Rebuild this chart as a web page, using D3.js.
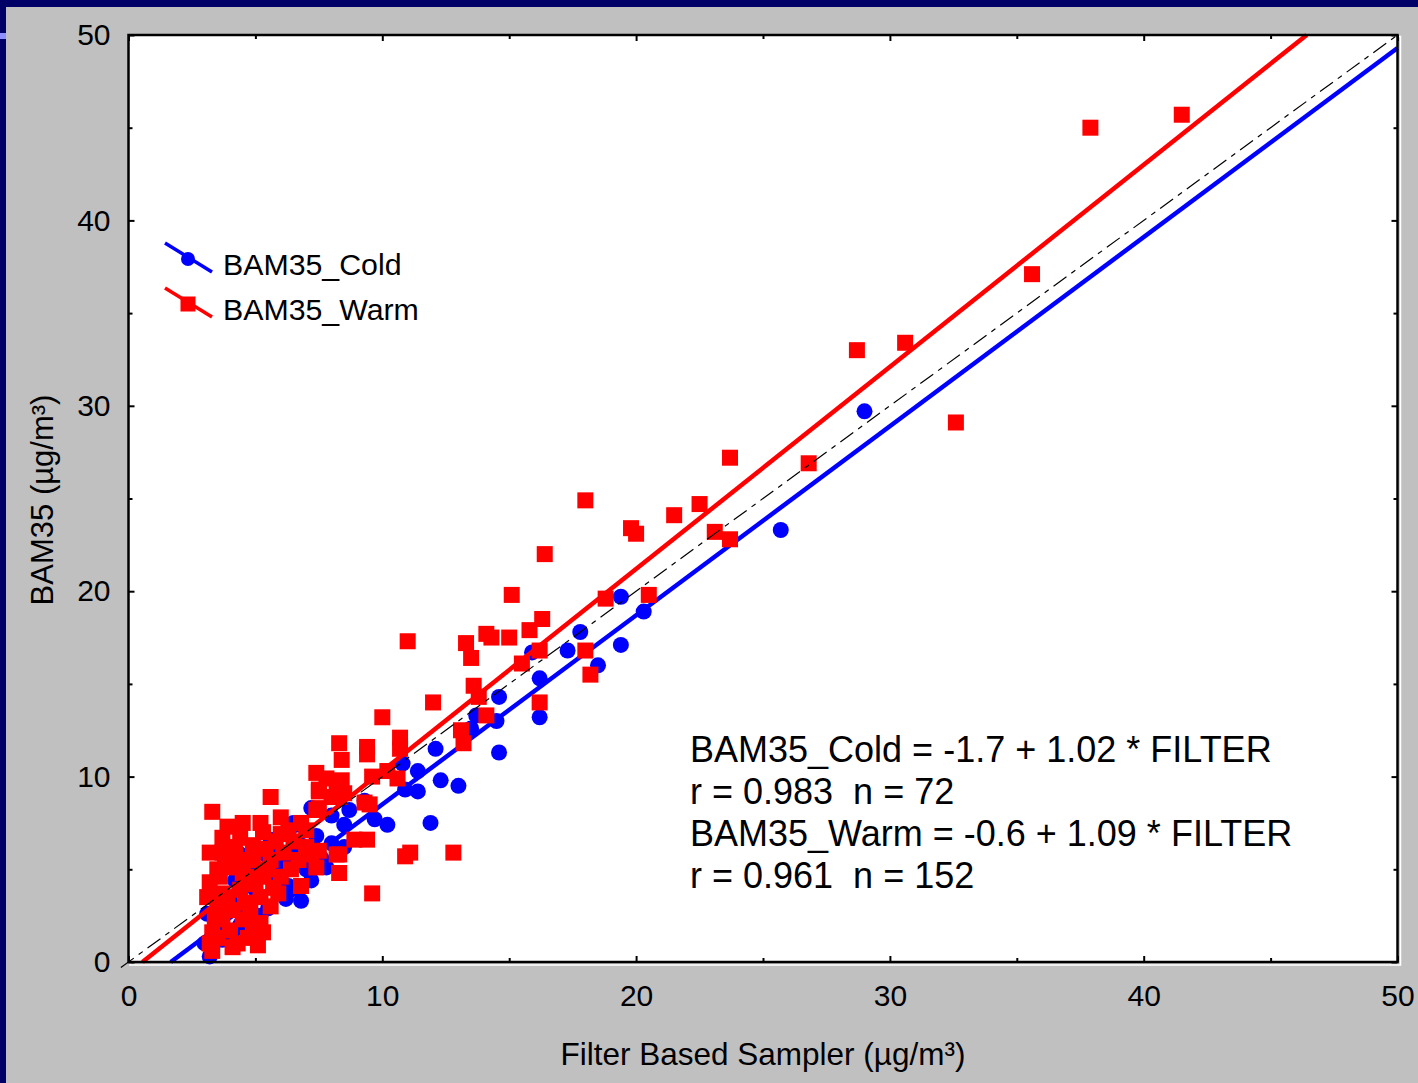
<!DOCTYPE html>
<html>
<head>
<meta charset="utf-8">
<script src="https://cdn.jsdelivr.net/npm/d3@7"></script>
<style>
  html, body { margin: 0; padding: 0; background: #000066; }
  svg { display: block; }
  text { font-family: "Liberation Sans", Arial, sans-serif; fill: #000; }
</style>
</head>
<body>
<svg id="chart" width="1418" height="1083"></svg>
<script>
// ---------- data ----------
const xTicks = [0, 10, 20, 30, 40, 50];
const yTicks = [0, 10, 20, 30, 40, 50];
const minorTicks = [5, 15, 25, 35, 45];
const seriesNames = ["BAM35_Cold", "BAM35_Warm"];
const seriesColors = ["#0000ff", "#ff0000"];
const fitIntercepts = [-1.7, -0.6];
const fitSlopes = [1.02, 1.09];
const annotationLines = [
  "BAM35_Cold = -1.7 + 1.02 * FILTER",
  "r = 0.983  n = 72",
  "BAM35_Warm = -0.6 + 1.09 * FILTER",
  "r = 0.961  n = 152"
];
const xTitle = "Filter Based Sampler (µg/m³)";
const yTitle = "BAM35 (µg/m³)";

// [filter, bam]
const coldPoints = [
  [29.0,29.7],[25.7,23.3],[19.4,19.7],[20.3,18.9],[19.4,17.1],[17.8,17.8],[17.3,16.8],
  [18.5,16.0],[15.9,16.7],[16.2,15.3],[16.2,13.2],[14.6,14.3],[14.5,13.0],[13.7,13.3],
  [14.6,11.3],[13.5,12.6],[12.1,11.5],[10.8,10.7],[11.4,10.3],[12.3,9.8],[13.0,9.5],
  [10.9,9.3],[11.4,9.2],[8.5,7.4],[10.2,7.4],[11.9,7.5],[6.6,7.4],[6.2,3.4],[5.5,2.9],
  [3.2,0.3],[8.0,6.4],[8.5,6.2],[7.8,5.1],[6.3,4.1],[6.5,7.5],[6.4,5.3],[6.4,3.9],
  [4.7,4.3],[3.1,2.6],[3.7,1.2],[3.0,1.0],[4.1,1.6],[3.3,0.8],[4.0,3.3],[4.8,5.0],
  [5.4,5.8],[5.8,4.4],[6.8,6.3],[7.4,6.8],[4.4,2.0],[3.6,2.0],[5.2,1.7],[7.0,5.0],
  [7.6,5.6],[5.6,6.6],[4.6,3.1],[3.4,1.5],[5.0,3.9],[4.2,4.4],[6.0,5.2],[6.8,3.3],
  [7.2,4.4],[3.8,2.8],[5.2,2.5],[6.6,5.8],[4.4,5.8],[8.0,7.9],[8.7,8.2],[9.3,8.7],
  [7.2,8.3],[9.7,7.7],[5.9,6.0]
];

const warmPoints = [
  [41.5,45.7],[37.9,45.0],[35.6,37.1],[30.6,33.4],[28.7,33.0],[32.6,29.1],[26.8,26.9],
  [23.7,27.2],[22.5,24.7],[21.5,24.1],[18.0,24.9],[23.1,23.2],[23.7,22.8],[19.8,23.4],
  [20.0,23.1],[16.4,22.0],[20.5,19.8],[18.8,19.6],[15.1,19.8],[16.3,18.5],[15.8,17.9],
  [14.1,17.7],[14.3,17.5],[15.0,17.5],[13.3,17.2],[11.0,17.3],[13.5,16.4],[16.2,16.8],
  [15.5,16.1],[18.0,16.8],[18.2,15.5],[13.6,14.9],[13.8,14.3],[12.0,14.0],[16.2,14.0],
  [14.1,13.3],[10.0,13.2],[13.1,12.5],[13.2,11.8],[10.7,12.1],[10.7,11.5],[8.3,11.8],
  [9.4,11.6],[9.4,11.2],[7.4,10.2],[7.8,9.9],[10.2,10.3],[10.6,9.9],[8.4,10.9],[8.4,9.8],
  [9.6,10.0],[7.5,9.2],[8.3,8.9],[9.5,8.5],[9.4,6.6],[8.9,6.6],[8.3,5.8],[8.3,4.8],
  [10.9,5.7],[11.1,5.9],[12.8,5.9],[9.6,3.7],
  [3.3,8.1],[5.6,8.9],[7.5,9.3],[8.2,9.4],[7.4,8.2],[8.5,9.1],[9.3,8.6],[3.9,7.3],
  [4.5,7.5],[5.2,7.5],[6.0,7.8],[6.3,7.1],[3.7,6.7],[4.4,6.7],[5.3,7.0],[7.0,7.1],
  [5.8,6.5],[3.2,5.9],[3.7,5.9],[4.3,5.5],[4.9,5.5],[5.6,5.5],[6.7,5.5],[7.5,6.0],
  [8.2,5.8],[7.4,5.1],[3.5,5.0],[4.0,5.1],[4.7,4.6],[5.3,4.6],[5.7,4.0],[6.8,4.1],
  [3.2,4.3],[3.1,3.5],[3.7,3.7],[4.4,3.9],[5.2,3.5],[3.5,3.0],[4.1,2.8],[4.8,2.7],
  [3.7,2.3],[4.5,2.3],[5.2,2.1],[3.3,1.6],[4.0,1.7],[4.7,1.3],[5.3,1.6],[3.2,1.0],
  [5.1,0.9],[3.3,0.6],[8.0,8.9],[7.5,8.3],
  [3.6,4.6],[4.2,6.2],[4.9,6.3],[5.5,5.0],[6.1,5.9],[6.5,6.5],[3.9,3.3],[4.6,3.2],
  [5.0,4.2],[6.0,4.6],[6.4,5.0],[7.0,6.2],[3.4,2.4],[4.3,1.0],[4.9,2.0],[5.6,3.0],
  [6.0,6.9],[6.8,7.5],[7.2,5.8],[3.8,5.5],[4.5,4.8],[5.4,6.1],[5.9,3.7],[3.5,1.3],
  [4.1,0.8]
];

// ---------- layout ----------
const svg = d3.select("#chart");
const W = 1418, H = 1083;
const plot = { left: 128.5, right: 1397.5, top: 35, bottom: 962 };

// background panels
svg.append("rect").attr("x", 0).attr("y", 0).attr("width", W).attr("height", H).attr("fill", "#000066");
svg.append("rect").attr("x", 6).attr("y", 7).attr("width", W - 6).attr("height", H - 7).attr("fill", "#c0c0c0");
svg.append("rect").attr("x", 0).attr("y", 33).attr("width", 6).attr("height", 6).attr("fill", "#8f8fff");

const x = d3.scaleLinear().domain([0, 50]).range([plot.left, plot.right]);
const y = d3.scaleLinear().domain([0, 50]).range([plot.bottom, plot.top]);

// plot area
svg.append("rect")
  .attr("x", plot.left + 1.5).attr("y", plot.top + 1.5)
  .attr("width", plot.right - plot.left + 1.5).attr("height", plot.bottom - plot.top + 1.5)
  .attr("fill", "none").attr("stroke", "#ffffff").attr("stroke-width", 1.5);
svg.append("rect")
  .attr("x", plot.left).attr("y", plot.top)
  .attr("width", plot.right - plot.left).attr("height", plot.bottom - plot.top)
  .attr("fill", "#ffffff");

// ---------- axes (ticks inward on all sides) ----------
function styleAxis(g) {
  g.select(".domain").remove();
  g.selectAll(".tick line").attr("stroke", "#000").attr("stroke-width", 2);
  g.selectAll(".tick text").attr("font-size", 30).attr("fill", "#000")
    .attr("font-family", "Liberation Sans, Arial, sans-serif");
}
svg.append("g").attr("transform", `translate(0,${plot.bottom})`)
  .call(d3.axisBottom(x).tickValues(xTicks).tickFormat(d3.format("d")).tickSizeInner(-6).tickSizeOuter(0).tickPadding(23))
  .call(styleAxis);
svg.append("g").attr("transform", `translate(0,${plot.bottom})`)
  .call(d3.axisBottom(x).tickValues(minorTicks).tickFormat("").tickSizeInner(-4).tickSizeOuter(0))
  .call(styleAxis);
svg.append("g").attr("transform", `translate(${plot.left},0)`)
  .call(d3.axisLeft(y).tickValues(yTicks).tickFormat(d3.format("d")).tickSizeInner(-6).tickSizeOuter(0).tickPadding(18))
  .call(styleAxis);
svg.append("g").attr("transform", `translate(${plot.left},0)`)
  .call(d3.axisLeft(y).tickValues(minorTicks).tickFormat("").tickSizeInner(-4).tickSizeOuter(0))
  .call(styleAxis);
svg.append("g").attr("transform", `translate(0,${plot.top})`)
  .call(d3.axisTop(x).tickValues(xTicks).tickFormat("").tickSizeInner(-6).tickSizeOuter(0))
  .call(styleAxis);
svg.append("g").attr("transform", `translate(0,${plot.top})`)
  .call(d3.axisTop(x).tickValues(minorTicks).tickFormat("").tickSizeInner(-4).tickSizeOuter(0))
  .call(styleAxis);
svg.append("g").attr("transform", `translate(${plot.right},0)`)
  .call(d3.axisRight(y).tickValues(yTicks).tickFormat("").tickSizeInner(-6).tickSizeOuter(0))
  .call(styleAxis);
svg.append("g").attr("transform", `translate(${plot.right},0)`)
  .call(d3.axisRight(y).tickValues(minorTicks).tickFormat("").tickSizeInner(-4).tickSizeOuter(0))
  .call(styleAxis);

// ---------- fit lines ----------
function fitSegment(i) {
  const a = fitIntercepts[i], b = fitSlopes[i];
  const x0 = Math.max(0, (0 - a) / b);
  const x1 = Math.min(50, (50 - a) / b);
  return [[x0, a + b * x0], [x1, a + b * x1]];
}
const line = d3.line().x(d => x(d[0])).y(d => y(d[1]));

const marks = svg.append("g");
// cold fit
marks.append("path").attr("d", line(fitSegment(0)))
  .attr("stroke", seriesColors[0]).attr("stroke-width", 4.5).attr("fill", "none");
// cold points
marks.append("g").selectAll("circle").data(coldPoints).join("circle")
  .attr("cx", d => x(d[0])).attr("cy", d => y(d[1])).attr("r", 8)
  .attr("fill", seriesColors[0]);
// warm points
const sq = 16;
marks.append("g").selectAll("rect").data(warmPoints).join("rect")
  .attr("x", d => x(d[0]) - sq / 2).attr("y", d => y(d[1]) - sq / 2)
  .attr("width", sq).attr("height", sq).attr("fill", seriesColors[1]);
// warm fit
marks.append("path").attr("d", line(fitSegment(1)))
  .attr("stroke", seriesColors[1]).attr("stroke-width", 4.5).attr("fill", "none");
// identity line
marks.append("path").attr("d", line([[-0.3, -0.3], [50, 50]]))
  .attr("stroke", "#000").attr("stroke-width", 1.2).attr("fill", "none")
  .attr("stroke-dasharray", "16,6,5,6");

// frame
svg.append("rect")
  .attr("x", plot.left).attr("y", plot.top)
  .attr("width", plot.right - plot.left).attr("height", plot.bottom - plot.top)
  .attr("fill", "none").attr("stroke", "#000").attr("stroke-width", 2.5);

// ---------- legend ----------
const legend = svg.append("g");
const legendY = [259, 304];
seriesNames.forEach((name, i) => {
  const cy = legendY[i];
  legend.append("line").attr("x1", 165).attr("y1", cy - 16).attr("x2", 212).attr("y2", cy + 13)
    .attr("stroke", seriesColors[i]).attr("stroke-width", 3.5);
  if (i === 0) {
    legend.append("circle").attr("cx", 188).attr("cy", cy).attr("r", 7).attr("fill", seriesColors[i]);
  } else {
    legend.append("rect").attr("x", 188 - 7.5).attr("y", cy - 7.5).attr("width", 15).attr("height", 15).attr("fill", seriesColors[i]);
  }
  legend.append("text").attr("x", 223).attr("y", cy + 16).attr("font-size", 30.3).text(name);
});

// ---------- annotation ----------
const ann = svg.append("g");
annotationLines.forEach((t, i) => {
  ann.append("text").attr("x", 690).attr("y", 762 + i * 42).attr("font-size", 36)
    .attr("xml:space", "preserve").style("white-space", "pre").text(t);
});

// ---------- axis titles ----------
svg.append("text").attr("x", 763).attr("y", 1065).attr("text-anchor", "middle")
  .attr("font-size", 31.5).text(xTitle);
svg.append("text").attr("transform", "translate(53,500) rotate(-90)").attr("text-anchor", "middle")
  .attr("font-size", 31).text(yTitle);
</script>
</body>
</html>
